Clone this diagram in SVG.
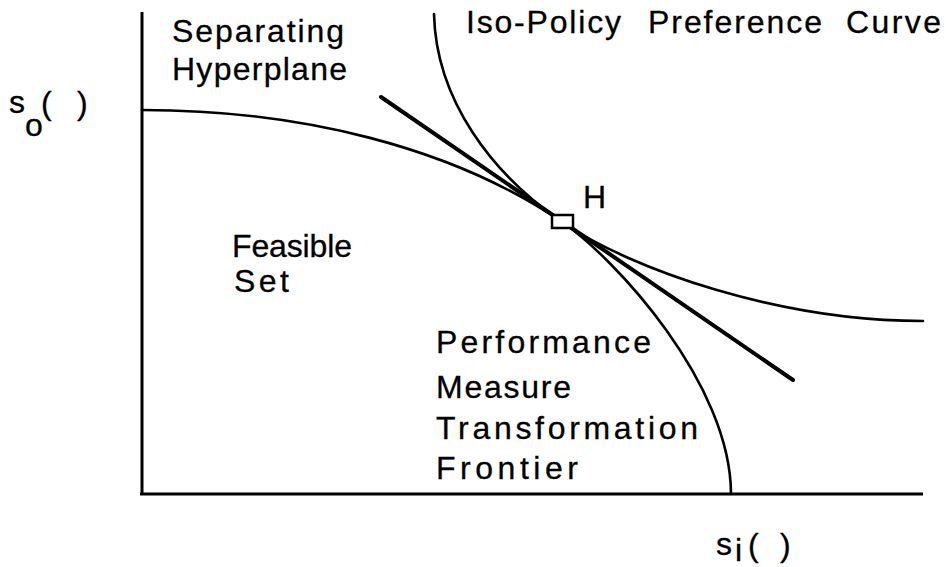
<svg xmlns="http://www.w3.org/2000/svg" width="946" height="567" viewBox="0 0 946 567">
  <style>
    .lbl { font-family: "Liberation Sans", Arial, sans-serif; font-size: 32px; fill: #000; stroke: #000; stroke-width: 0.3; }
    .axis { stroke: #000; stroke-width: 3; fill: none; }
    .curve { stroke: #000; stroke-width: 2.6; fill: none; stroke-linecap: round; }
    .plane { stroke: #000; stroke-width: 4; fill: none; stroke-linecap: round; }
  </style>

  <!-- axes -->
  <g id="axes">
    <line class="axis" x1="142" y1="12" x2="142" y2="495"/>
    <line class="axis" x1="140" y1="494" x2="923" y2="494"/>
    <text class="lbl" x="9" y="113">s</text>
    <text class="lbl" x="25" y="136">o</text>
    <text class="lbl" x="41" y="114">(</text>
    <text class="lbl" x="77" y="114">)</text>
    <text class="lbl" x="716" y="555">s</text>
    <text class="lbl" x="735" y="561">i</text>
    <text class="lbl" x="748" y="556">(</text>
    <text class="lbl" x="780" y="556">)</text>
  </g>

  <!-- curves and the separating line -->
  <g id="connectors">
    <!-- transformation frontier -->
    <path id="frontier" class="curve" d="M142,110 C300,110 452,147 562,222 C615,258 731,384 731,494"/>
    <!-- iso-policy preference curve -->
    <path id="iso-policy" class="curve" d="M434,14 C436,100 492,174 562,222 C632,270 780,321 923,321"/>
    <!-- separating hyperplane -->
    <line id="hyperplane" class="plane" x1="381" y1="97" x2="793" y2="380"/>
  </g>

  <!-- tangency point H -->
  <g id="point-h">
    <rect x="552" y="215" width="21" height="13" fill="#fff" stroke="#000" stroke-width="2.5"/>
    <text class="lbl" x="583" y="208">H</text>
  </g>

  <g id="label-hyperplane">
    <text class="lbl" x="172" y="42" textLength="172" lengthAdjust="spacing">Separating</text>
    <text class="lbl" x="172" y="80" textLength="175" lengthAdjust="spacing">Hyperplane</text>
  </g>

  <g id="label-iso-policy">
    <text class="lbl" x="466" y="33" textLength="155" lengthAdjust="spacing">Iso-Policy</text>
    <text class="lbl" x="648" y="33" textLength="174" lengthAdjust="spacing">Preference</text>
    <text class="lbl" x="846" y="33" textLength="95" lengthAdjust="spacing">Curve</text>
  </g>

  <g id="label-feasible">
    <text class="lbl" x="232" y="257" textLength="120" lengthAdjust="spacing">Feasible</text>
    <text class="lbl" x="234" y="292" textLength="55" lengthAdjust="spacing">Set</text>
  </g>

  <g id="label-frontier">
    <text class="lbl" x="436" y="353" textLength="215" lengthAdjust="spacing">Performance</text>
    <text class="lbl" x="436" y="398" textLength="135" lengthAdjust="spacing">Measure</text>
    <text class="lbl" x="436" y="439" textLength="262" lengthAdjust="spacing">Transformation</text>
    <text class="lbl" x="436" y="479" textLength="142" lengthAdjust="spacing">Frontier</text>
  </g>
</svg>
